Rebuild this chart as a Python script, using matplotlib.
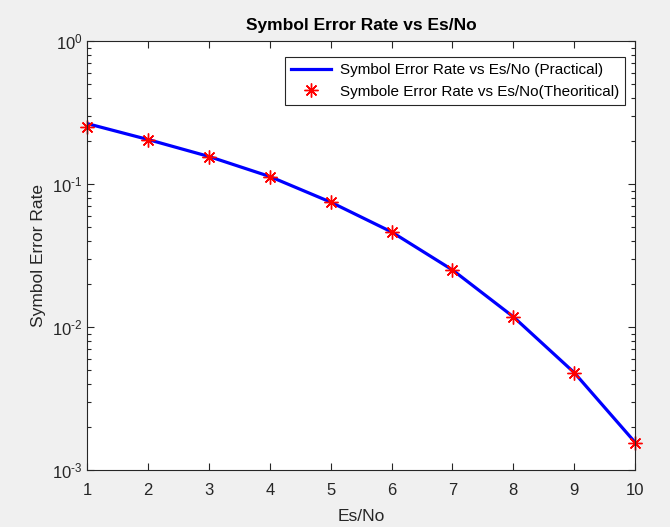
import matplotlib.pyplot as plt
from matplotlib.ticker import LogLocator, NullFormatter, FuncFormatter
import numpy as np

plt.rcParams["font.family"] = ["Liberation Sans", "DejaVu Sans"]
plt.rcParams["mathtext.fontset"] = "custom"
plt.rcParams["mathtext.rm"] = "Liberation Sans"
plt.rcParams["mathtext.it"] = "Liberation Sans:italic"
plt.rcParams["mathtext.bf"] = "Liberation Sans:bold"
plt.rcParams["axes.unicode_minus"] = False

es_no = [1, 2, 3, 4, 5, 6, 7, 8, 9, 10]
ser_practical = [0.265, 0.205, 0.156, 0.113, 0.0748, 0.0463, 0.0251, 0.0118, 0.0048, 0.00156]
ser_theory = [0.252, 0.203, 0.155, 0.1125, 0.0745, 0.0464, 0.0250, 0.0118, 0.00479, 0.00154]

AX_COLOR = "#262626"


def pow10_label(value, pos):
    exp = int(round(np.log10(value)))
    if exp < 0:
        return r"$10^{\text{-}%d}$" % abs(exp)
    return r"$10^{%d}$" % exp


def main():
    fig = plt.figure(figsize=(6.7, 5.27), dpi=100, facecolor="#f0f0f0")
    ax = fig.add_axes([0.130, 0.108, 0.818, 0.814])

    ax.semilogy(es_no, ser_practical, color="#0000ff", lw=2.3,
                label="Symbol Error Rate vs Es/No (Practical)")
    ax.semilogy(es_no, ser_theory, ls="none", marker=(8, 2, 0), ms=10,
                mew=1.0, color="#ff0000", clip_on=False,
                label="Symbole Error Rate vs Es/No(Theoritical)")

    ax.set_xlim(1, 10)
    ax.set_ylim(1e-3, 1e0)
    ax.set_xticks(es_no)
    ax.yaxis.set_major_locator(LogLocator(base=10, numticks=10))
    ax.yaxis.set_major_formatter(FuncFormatter(pow10_label))
    ax.yaxis.set_minor_locator(LogLocator(base=10, subs=range(2, 10), numticks=20))
    ax.yaxis.set_minor_formatter(NullFormatter())

    ax.tick_params(which="both", direction="in", top=True, right=True,
                   colors=AX_COLOR, labelsize=12, width=0.8)
    ax.tick_params(which="major", length=5)
    ax.tick_params(which="minor", length=3)
    ax.tick_params(axis="x", pad=9)
    for spine in ax.spines.values():
        spine.set_color(AX_COLOR)
        spine.set_linewidth(0.8)

    ax.set_title("Symbol Error Rate vs Es/No", fontsize=12.5, fontweight="bold",
                 color="black", pad=8)
    ax.set_xlabel("Es/No", fontsize=12.5, color=AX_COLOR, labelpad=8)
    ax.set_ylabel("Symbol Error Rate", fontsize=12.5, color=AX_COLOR, labelpad=4)

    leg = ax.legend(loc="upper right", bbox_to_anchor=(0.982, 0.963),
                    borderaxespad=0, fontsize=11, frameon=True, fancybox=False,
                    edgecolor=AX_COLOR, framealpha=1,
                    handlelength=2.6, handletextpad=0.6,
                    borderpad=0.4, labelspacing=0.5)
    leg.get_frame().set_linewidth(0.8)

    fig.savefig("out.png", dpi=100, facecolor=fig.get_facecolor())
    plt.close(fig)


if __name__ == "__main__":
    main()
